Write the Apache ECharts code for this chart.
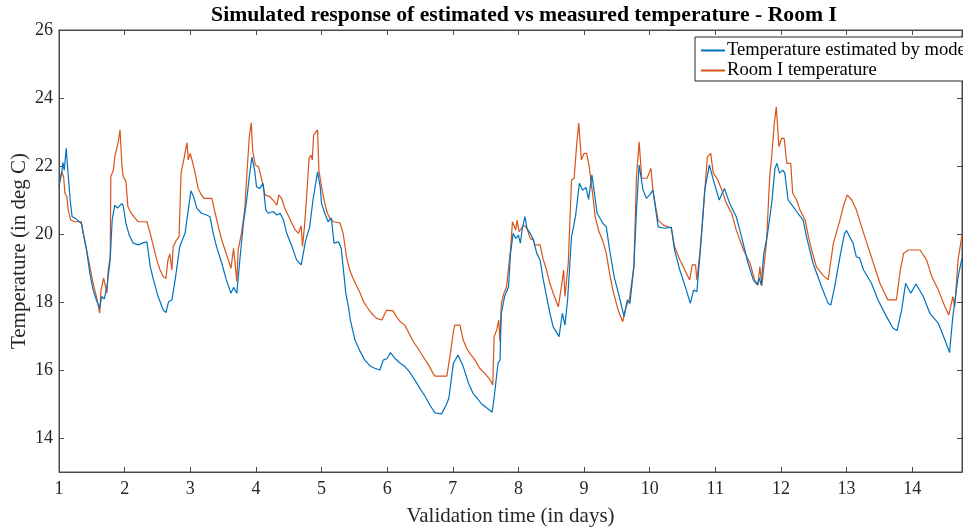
<!DOCTYPE html>
<html>
<head>
<meta charset="utf-8">
<script src="https://cdn.jsdelivr.net/npm/echarts@6/dist/echarts.min.js"></script>
<style>html,body{margin:0;padding:0;background:#fff}#c{width:963px;height:527px}</style>
</head>
<body>
<div id="c"></div>
<script>
const titleText = 'Simulated response of estimated vs measured temperature - Room I';
const seriesNames = ['Temperature estimated by model', 'Room I temperature'];
const xTicks = [1,2,3,4,5,6,7,8,9,10,11,12,13,14];
const yTicks = [14,16,18,20,22,24,26];

const estDays = [1.00,1.04,1.06,1.08,1.11,1.13,1.17,1.20,1.25,1.34,1.37,1.42,1.47,1.52,1.57,1.62,1.65,1.69,1.73,1.78,1.81,1.85,1.89,1.96,1.98,2.02,2.07,2.13,2.21,2.28,2.34,2.39,2.44,2.51,2.59,2.63,2.67,2.72,2.77,2.84,2.92,2.97,3.01,3.05,3.10,3.17,3.25,3.30,3.35,3.40,3.48,3.55,3.62,3.66,3.71,3.76,3.81,3.86,3.90,3.94,3.98,4.01,4.06,4.11,4.15,4.19,4.26,4.32,4.37,4.42,4.47,4.55,4.62,4.69,4.72,4.76,4.82,4.87,4.92,4.94,4.98,5.00,5.05,5.10,5.15,5.19,5.26,5.30,5.35,5.37,5.41,5.44,5.51,5.59,5.66,5.74,5.81,5.89,5.94,6.00,6.05,6.12,6.20,6.27,6.35,6.42,6.50,6.58,6.65,6.73,6.83,6.90,6.94,7.01,7.08,7.16,7.24,7.31,7.37,7.44,7.52,7.60,7.63,7.69,7.72,7.74,7.79,7.85,7.88,7.92,7.96,8.00,8.03,8.06,8.10,8.13,8.18,8.23,8.28,8.33,8.38,8.43,8.48,8.53,8.62,8.67,8.71,8.75,8.81,8.87,8.93,8.98,9.03,9.07,9.12,9.14,9.20,9.29,9.34,9.39,9.46,9.55,9.61,9.66,9.70,9.76,9.80,9.84,9.90,9.95,10.00,10.05,10.13,10.23,10.33,10.38,10.46,10.56,10.62,10.67,10.72,10.79,10.84,10.91,10.97,11.06,11.14,11.22,11.32,11.40,11.50,11.58,11.64,11.67,11.70,11.74,11.79,11.86,11.91,11.94,11.98,12.03,12.06,12.11,12.19,12.26,12.34,12.39,12.49,12.62,12.72,12.76,12.82,12.90,12.97,13.00,13.10,13.15,13.20,13.26,13.38,13.48,13.61,13.71,13.77,13.84,13.90,13.98,14.06,14.17,14.27,14.40,14.50,14.57,14.62,14.70,14.76];
const estTemp = [21.39,21.79,22.10,21.88,22.52,21.98,21.00,20.51,20.46,20.31,20.02,19.53,18.84,18.35,18.06,17.82,18.16,18.09,18.45,19.24,20.41,20.85,20.76,20.90,20.82,20.31,19.97,19.73,19.68,19.74,19.77,19.04,18.65,18.16,17.76,17.69,18.01,18.06,18.65,19.63,20.02,20.71,21.27,21.10,20.76,20.61,20.56,20.51,20.02,19.63,19.14,18.65,18.26,18.43,18.26,19.33,20.31,21.00,21.69,22.26,21.88,21.39,21.34,21.49,20.71,20.61,20.66,20.56,20.61,20.41,20.02,19.63,19.24,19.09,19.04,19.82,20.21,21.00,21.59,21.83,21.39,20.90,20.61,20.36,20.47,19.73,19.77,19.58,18.65,18.26,17.86,17.47,16.88,16.54,16.29,16.12,16.05,16.00,16.29,16.34,16.51,16.34,16.20,16.10,15.92,15.71,15.46,15.22,14.97,14.74,14.71,14.97,15.17,16.20,16.44,16.10,15.61,15.31,15.17,15.00,14.88,14.76,15.18,16.20,16.29,17.67,18.16,18.45,19.43,20.02,19.87,19.97,19.73,20.17,20.51,20.17,20.02,19.82,19.43,19.24,18.65,18.16,17.67,17.27,16.98,17.67,17.32,18.06,19.92,20.51,21.49,21.29,21.37,21.02,21.74,21.69,20.61,20.31,20.21,19.53,18.74,18.06,17.57,18.06,17.96,19.04,20.71,22.03,21.29,21.05,21.15,21.29,20.21,20.17,20.20,19.53,18.94,18.35,17.96,18.35,18.30,19.92,21.29,22.03,21.59,21.00,21.34,20.90,20.51,19.92,19.14,18.65,18.50,18.70,18.50,19.43,19.92,20.90,21.93,22.08,21.79,21.88,21.79,21.00,20.80,20.61,20.41,19.92,19.14,18.45,17.96,17.91,18.45,19.33,20.02,20.10,19.73,19.33,19.29,18.94,18.55,18.06,17.57,17.23,17.16,17.76,18.55,18.26,18.53,18.16,17.67,17.37,16.88,16.51,17.57,18.74,19.29];

const roomDays = [1.00,1.04,1.07,1.09,1.12,1.14,1.18,1.24,1.34,1.37,1.42,1.47,1.52,1.57,1.62,1.64,1.68,1.70,1.73,1.75,1.78,1.79,1.83,1.85,1.88,1.90,1.93,1.96,1.98,2.02,2.05,2.10,2.16,2.21,2.34,2.39,2.44,2.49,2.54,2.59,2.63,2.66,2.69,2.72,2.74,2.79,2.83,2.86,2.91,2.95,2.97,3.00,3.04,3.07,3.12,3.17,3.21,3.33,3.38,3.43,3.48,3.53,3.58,3.62,3.66,3.68,3.71,3.73,3.78,3.83,3.87,3.90,3.93,3.95,3.99,4.04,4.09,4.14,4.21,4.26,4.32,4.35,4.39,4.44,4.49,4.55,4.60,4.65,4.69,4.71,4.74,4.77,4.81,4.84,4.86,4.88,4.91,4.94,4.96,5.00,5.05,5.09,5.13,5.18,5.28,5.33,5.38,5.43,5.48,5.54,5.59,5.64,5.69,5.76,5.84,5.92,5.99,6.09,6.14,6.20,6.27,6.32,6.40,6.47,6.55,6.63,6.70,6.73,6.91,6.96,7.01,7.03,7.11,7.16,7.21,7.26,7.34,7.41,7.49,7.57,7.61,7.63,7.67,7.70,7.72,7.74,7.78,7.82,7.84,7.88,7.91,7.94,7.96,7.98,8.01,8.05,8.08,8.13,8.18,8.23,8.25,8.33,8.38,8.43,8.48,8.53,8.61,8.67,8.69,8.71,8.76,8.81,8.85,8.89,8.92,8.96,9.00,9.04,9.08,9.10,9.13,9.17,9.22,9.29,9.34,9.39,9.44,9.52,9.59,9.64,9.69,9.76,9.80,9.84,9.88,9.96,10.02,10.05,10.10,10.13,10.21,10.33,10.38,10.46,10.61,10.65,10.70,10.72,10.77,10.81,10.88,10.93,10.97,11.04,11.10,11.17,11.25,11.32,11.43,11.53,11.60,11.65,11.68,11.70,11.71,11.78,11.83,11.86,11.90,11.93,11.97,12.01,12.05,12.09,12.15,12.18,12.24,12.29,12.37,12.42,12.47,12.54,12.64,12.72,12.80,12.90,12.95,13.01,13.08,13.15,13.23,13.31,13.41,13.51,13.63,13.76,13.82,13.87,13.94,14.12,14.22,14.30,14.40,14.50,14.56,14.62,14.65,14.70,14.76];
const roomTemp = [21.44,21.83,21.69,21.20,21.10,20.71,20.41,20.36,20.36,20.02,19.53,19.04,18.55,18.16,17.67,18.35,18.70,18.70,18.26,18.94,19.33,21.69,21.88,22.27,22.32,22.67,23.06,21.98,21.69,21.54,20.80,20.61,20.46,20.36,20.36,20.02,19.63,19.24,18.94,18.74,18.70,19.24,19.41,18.94,19.63,19.82,19.92,21.79,22.27,22.69,22.18,22.37,22.08,21.83,21.34,21.15,21.05,21.05,20.61,20.21,19.82,19.53,19.24,18.99,19.58,19.58,18.60,19.53,20.02,20.71,21.98,22.86,23.27,22.47,22.03,21.98,21.59,21.15,21.10,21.00,20.85,21.15,21.05,20.76,20.56,20.31,20.12,20.02,20.24,19.63,20.21,21.00,22.23,22.32,22.18,22.91,22.86,23.06,21.88,21.39,20.90,20.61,20.46,20.36,20.33,20.02,19.33,18.94,18.70,18.45,18.26,18.01,17.86,17.67,17.52,17.47,17.76,17.74,17.57,17.42,17.32,17.13,16.83,16.64,16.39,16.15,15.90,15.82,15.82,16.44,17.13,17.32,17.32,16.88,16.64,16.49,16.29,16.05,15.90,15.71,15.56,16.98,17.18,17.47,16.83,17.96,18.26,18.45,18.50,19.53,20.36,20.41,20.12,20.41,20.07,20.17,20.26,20.17,19.87,19.82,19.68,19.68,19.24,18.94,18.55,18.26,17.86,18.65,18.94,18.16,19.14,21.59,21.64,22.67,23.26,22.18,22.37,22.37,21.98,21.64,21.20,20.51,20.12,19.77,19.43,18.84,18.35,17.76,17.42,17.86,18.06,19.04,21.69,22.71,21.64,21.64,21.93,21.29,20.71,20.41,20.26,20.17,19.63,19.24,18.65,19.09,19.09,18.65,19.53,20.51,22.27,22.37,21.79,21.59,21.29,20.90,20.61,20.12,19.53,19.14,18.65,18.50,19.04,19.04,18.47,19.73,21.69,22.27,23.26,23.74,22.57,22.81,22.81,22.08,22.08,21.20,21.00,20.71,20.41,19.92,19.53,19.04,18.79,18.65,19.73,20.41,20.80,21.15,21.00,20.71,20.21,19.73,19.14,18.55,18.06,18.06,18.94,19.43,19.53,19.53,19.24,18.74,18.35,17.86,17.62,18.16,17.86,19.24,19.97];

const font = '"Liberation Serif", "Times New Roman", serif';
const ink = '#262626';
const axisCol = '#4a4a4a';

function pairs(xs, ys) { return xs.map((x, i) => [x, ys[i]]); }

const chart = echarts.init(document.getElementById('c'), null, {renderer: 'canvas'});
const baseX = {
  type: 'value', min: 1, max: 14.76,
  splitLine: {show: false},
  axisLine: {show: true, onZero: false, lineStyle: {color: axisCol, width: 1}},
};
const baseY = {
  type: 'value', min: 13, max: 26,
  splitLine: {show: false},
  axisLine: {show: true, onZero: false, lineStyle: {color: axisCol, width: 1}},
};
chart.setOption({
  backgroundColor: '#fff',
  animation: false,
  title: {
    text: titleText, left: 519, top: -1, textAlign: 'center',
    textStyle: {fontFamily: font, fontWeight: 'bold', fontSize: 21.7, color: '#000'}
  },
  legend: {
    orient: 'vertical', left: 695, top: 37,
    data: seriesNames,
    backgroundColor: '#fff', borderColor: ink, borderWidth: 1,
    padding: [4, 5, 1, 5], itemGap: 1, itemWidth: 24, itemHeight: 16,
    itemStyle: {opacity: 0},
    textStyle: {fontFamily: font, fontSize: 18.6, color: '#000', padding: [0, 0, 0, -3]}
  },
  grid: {left: 59, right: 1, top: 30, bottom: 55, outerBoundsMode: 'none', containLabel: false,
    show: true, borderColor: axisCol, borderWidth: 1, backgroundColor: '#fff'},
  xAxis: [
    Object.assign({}, baseX, {
      position: 'bottom',
      name: 'Validation time (in days)', nameLocation: 'middle', nameGap: 34, nameMoveOverlap: false,
      nameTextStyle: {fontFamily: font, fontSize: 21, color: ink},
      axisTick: {show: true, inside: true, length: 5, customValues: xTicks, lineStyle: {color: axisCol}},
      axisLabel: {show: true, customValues: xTicks, fontFamily: font, fontSize: 18, color: ink, margin: 8}
    }),
    Object.assign({}, baseX, {
      position: 'top',
      axisTick: {show: true, inside: true, length: 5, customValues: xTicks, lineStyle: {color: axisCol}},
      axisLabel: {show: false}
    })
  ],
  yAxis: [
    Object.assign({}, baseY, {
      position: 'left',
      name: 'Temperature (in deg C)', nameLocation: 'middle', nameGap: 29, nameMoveOverlap: false,
      nameTextStyle: {fontFamily: font, fontSize: 21, color: ink},
      axisTick: {show: true, inside: true, length: 5, customValues: yTicks, lineStyle: {color: axisCol}},
      axisLabel: {show: true, customValues: yTicks, fontFamily: font, fontSize: 18, color: ink, margin: 6}
    }),
    Object.assign({}, baseY, {
      position: 'right',
      axisTick: {show: true, inside: true, length: 5, customValues: yTicks, lineStyle: {color: axisCol}},
      axisLabel: {show: false}
    })
  ],
  series: [
    {
      name: seriesNames[0], type: 'line', xAxisIndex: 0, yAxisIndex: 0,
      data: pairs(estDays, estTemp), symbol: 'none', showSymbol: false,
      lineStyle: {color: '#0072BD', width: 1.2}, itemStyle: {color: '#0072BD'}, z: 3
    },
    {
      name: seriesNames[1], type: 'line', xAxisIndex: 0, yAxisIndex: 0,
      data: pairs(roomDays, roomTemp), symbol: 'none', showSymbol: false,
      lineStyle: {color: '#D95319', width: 1.2}, itemStyle: {color: '#D95319'}, z: 2
    }
  ]
});
</script>
</body>
</html>
